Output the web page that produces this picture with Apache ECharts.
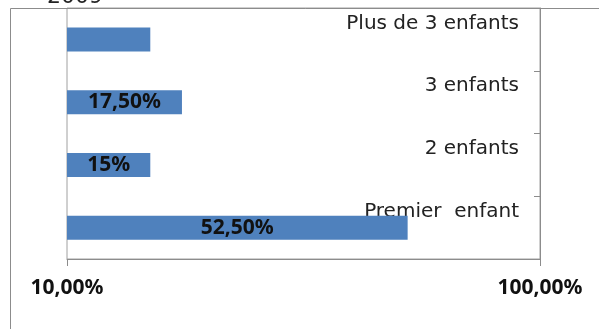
<!DOCTYPE html>
<html>
<head>
<meta charset="utf-8">
<script src="https://cdn.jsdelivr.net/npm/echarts@6/dist/echarts.min.js"></script>
<style>
  html, body { margin: 0; padding: 0; background: #fff; }
  #chart { width: 599px; height: 329px; }
</style>
</head>
<body>
<div id="chart"></div>
<script>
// Birth rank shares, 2009 (bottom to top on the category axis)
const categories = ['Premier  enfant', '2 enfants', '3 enfants', 'Plus de 3 enfants'];
const shares = [52.5, 15, 17.5, 15];
const showValue = [true, true, true, false];
const axisTicks = [10, 100];

const FONT = 'Noto Sans';
const CAT_FONT = 'DejaVu Sans';
const fmtShare = v => (v % 1 === 0 ? v + '%' : v.toFixed(2).replace('.', ',') + '%');
const fmtTick = v => v.toFixed(2).replace('.', ',') + '%';

const chart = echarts.init(document.getElementById('chart'), null, { renderer: 'canvas' });

chart.setOption({
  animation: false,
  backgroundColor: '#ffffff',
  grid: {
    left: 67, right: 59, top: 8, bottom: 70,
    show: true, borderColor: '#a0a0a0', borderWidth: 1,
    containLabel: false
  },
  graphic: [
    {
      type: 'rect',
      shape: { x: 10.5, y: 8.5, width: 700, height: 400 },
      style: { fill: 'none', stroke: '#8c8c8c', lineWidth: 1 },
      z: 0
    },
    {
      type: 'text',
      left: 47, top: -14,
      style: { text: '2009', font: '22px "' + CAT_FONT + '"', fill: '#222' },
      z: 10
    }
  ],
  xAxis: {
    type: 'log',
    logBase: 10,
    min: axisTicks[0],
    max: axisTicks[axisTicks.length - 1],
    position: 'bottom',
    axisLine: { show: true, lineStyle: { color: '#8c8c8c', width: 1 } },
    axisTick: { show: true, length: 7, lineStyle: { color: '#8c8c8c' } },
    splitLine: { show: false },
    minorTick: { show: false },
    axisLabel: {
      margin: 19,
      formatter: fmtTick,
      fontFamily: FONT, fontSize: 21, fontWeight: 'bold', color: '#111'
    }
  },
  yAxis: {
    type: 'category',
    data: categories,
    position: 'right',
    axisLine: { show: true, lineStyle: { color: '#8c8c8c', width: 1 } },
    axisTick: { show: true, inside: true, length: 6, lineStyle: { color: '#8c8c8c' } },
    axisLabel: {
      inside: true,
      margin: 21,
      align: 'right',
      verticalAlign: 'middle',
      formatter: v => '{c|' + v + '}',
      rich: {
        c: {
          fontFamily: CAT_FONT, fontSize: 20, color: '#222',
          padding: [0, 0, 32, 0]
        }
      }
    }
  },
  series: [{
    type: 'bar',
    barWidth: 24,
    data: shares.map((v, i) => ({ value: v, label: { show: showValue[i] } })),
    itemStyle: { color: '#4f81bd' },
    label: {
      show: true,
      position: 'inside',
      formatter: p => fmtShare(p.value),
      fontFamily: FONT, fontSize: 21, fontWeight: 'bold', color: '#111'
    }
  }]
});
</script>
</body>
</html>
